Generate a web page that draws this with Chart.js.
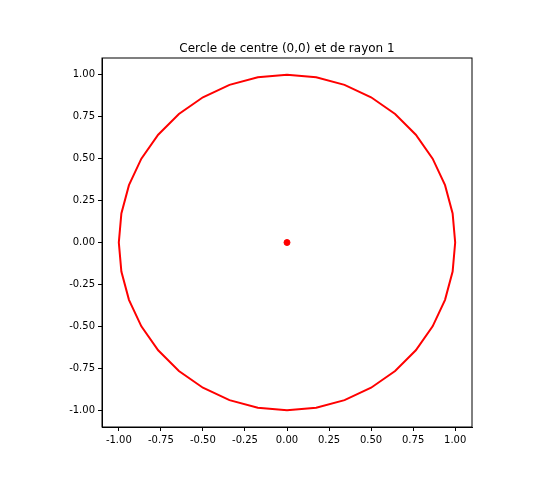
<!DOCTYPE html><html><head><meta charset="utf-8">
<script src="https://cdn.jsdelivr.net/npm/chart.js@4"></script>
<style>html,body{margin:0;background:#fff}#w{width:560px;height:480px}</style></head><body><div id="w"><canvas id="c"></canvas></div>
<script>
const titleText = "Cercle de centre (0,0) et de rayon 1";
const circleX = [1,.9848,.9397,.866,.766,.6428,.5,.342,.1736,0,-.1736,-.342,-.5,-.6428,-.766,-.866,-.9397,-.9848,-1,-.9848,-.9397,-.866,-.766,-.6428,-.5,-.342,-.1736,0,.1736,.342,.5,.6428,.766,.866,.9397,.9848,1];
const circleY = [0,.1736,.342,.5,.6428,.766,.866,.9397,.9848,1,.9848,.9397,.866,.766,.6428,.5,.342,.1736,0,-.1736,-.342,-.5,-.6428,-.766,-.866,-.9397,-.9848,-1,-.9848,-.9397,-.866,-.766,-.6428,-.5,-.342,-.1736,0];
const centerX = [0], centerY = [0];
const tickValues = [-1,-0.75,-0.5,-0.25,0,0.25,0.5,0.75,1];
const font = {family:"DejaVu Sans", size:10};
const axis = (isY) => ({
  type:'linear', min:-1.1, max:1.1,
  afterBuildTicks: s => { s.ticks = tickValues.map(v=>({value:v})); },
  afterFit: s => { if (isY) s.width = 40; else s.height = 30; },
  ticks:{color:'#000', font, padding:3, callback:v=>v.toFixed(2)},
  grid:{drawOnChartArea:false, drawTicks:true, tickLength:4, color:'#000'},
  border:{display:true, color:'#000'}
});
const frame = {id:'frame', afterDraw(ch){const a=ch.chartArea,c=ch.ctx;c.save();c.strokeStyle='#000';c.lineWidth=1;c.strokeRect(a.left,a.top,a.right-a.left,a.bottom-a.top);
 c.fillStyle='#000';c.font='12px "DejaVu Sans"';c.textAlign='center';c.textBaseline='alphabetic';c.fillText(titleText,(a.left+a.right)/2,a.top-6);c.restore();}};
new Chart(document.getElementById('c'),{
  type:'scatter',
  data:{datasets:[
    {data:circleX.map((x,i)=>({x,y:circleY[i]})), showLine:true, borderColor:'#ff0000', borderWidth:2, pointRadius:0, tension:0},
    {data:centerX.map((x,i)=>({x,y:centerY[i]})), backgroundColor:'#ff0000', borderColor:'#ff0000', pointRadius:3}
  ]},
  options:{responsive:true, maintainAspectRatio:false, animation:false,
    layout:{padding:{left:62,right:88,top:58,bottom:23}},
    plugins:{legend:{display:false}, tooltip:{enabled:false}},
    scales:{x:axis(false), y:axis(true)}},
  plugins:[frame]
});
</script></body></html>
